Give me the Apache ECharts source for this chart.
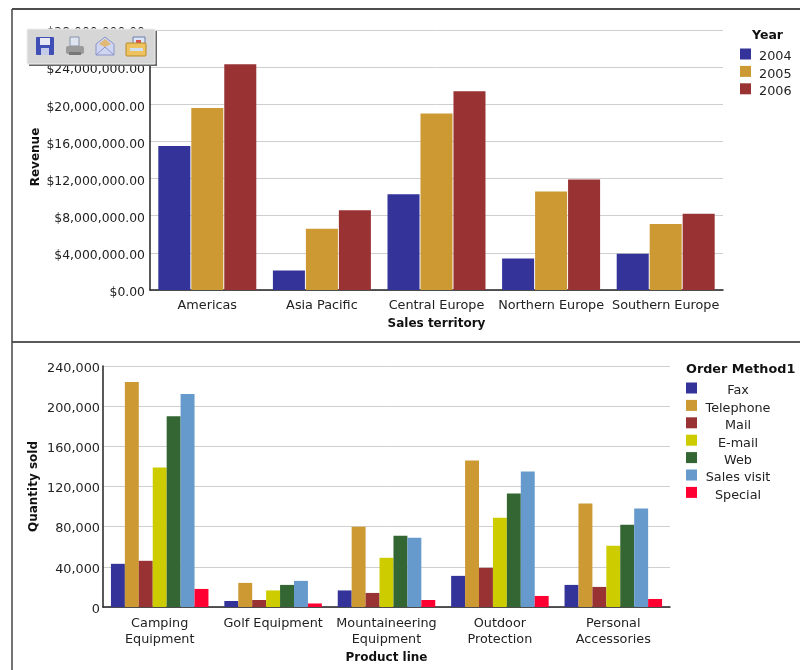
<!DOCTYPE html>
<html><head><meta charset="utf-8">
<style>html,body{margin:0;padding:0;background:#fff}#c{width:800px;height:670px}</style>
<script src="https://cdn.jsdelivr.net/npm/echarts@6/dist/echarts.min.js"></script>
</head><body><div id="c"></div>
<script>
const territories = ['Americas','Asia Pacific','Central Europe','Northern Europe','Southern Europe'];
const rev2004 = [15500000,2100000,10300000,3400000,3900000];
const rev2005 = [19600000,6600000,19000000,10600000,7100000];
const rev2006 = [24300000,8600000,21400000,11900000,8200000];
const productLines = ['Camping\nEquipment','Golf Equipment','Mountaineering\nEquipment','Outdoor\nProtection','Personal\nAccessories'];
const fax = [43000,6000,16500,31000,22000];
const telephone = [224000,24000,80000,146000,103000];
const mail = [46000,7000,14000,39000,20000];
const email = [139000,16500,49000,89000,61000];
const web = [190000,22000,71000,113000,82000];
const salesVisit = [212000,26000,69000,135000,98000];
const special = [18000,3500,7000,11000,8000];
const colors = ['#333399','#CC9933','#993333','#CCCC00','#336633','#6699CC','#FF0033'];
const F = 'DejaVu Sans';
const TXT = '#222';

const chart = echarts.init(document.getElementById('c'), null, {renderer:'canvas'});
const axisBase = {
  axisLine:{show:true,lineStyle:{color:'#222',width:1.5}},
  axisTick:{show:false},
  axisLabel:{fontFamily:F,fontSize:12.8,color:TXT},
  nameTextStyle:{fontFamily:F,fontSize:12,fontWeight:'bold',color:'#111'},
  nameLocation:'middle',
  nameMoveOverlap:false
};
const yRich = {a:{padding:[5,0,0,0],fontFamily:F,fontSize:12.8,color:TXT}};
const yRichTop = {a:{padding:[6,0,0,0],fontFamily:F,fontSize:12.4,color:TXT}};
const bar = (name,data,i,xi,gap,catGap)=>({
  name,type:'bar',data,xAxisIndex:xi,yAxisIndex:xi,
  barGap:gap,barCategoryGap:catGap,
  itemStyle:{color:colors[i]}
});
const kid = (type,shape,style)=>({type,shape,style,z:101});
const icon = (x,children)=>({type:'group',x,y:37,children});
chart.setOption({
  animation:false,
  textStyle:{fontFamily:F},
  color:colors,
  grid:[
    {left:150,top:30,width:573,height:260},
    {left:103,top:366,width:567,height:241}
  ],
  xAxis:[
    {...axisBase,type:'category',gridIndex:0,data:territories,name:'Sales territory',nameGap:28,
     axisLabel:{...axisBase.axisLabel,margin:9,interval:0}},
    {...axisBase,type:'category',gridIndex:1,data:productLines,name:'Product line',nameGap:45,
     axisLabel:{...axisBase.axisLabel,margin:9,interval:0,lineHeight:16}}
  ],
  yAxis:[
    {...axisBase,type:'value',gridIndex:0,min:0,max:28000000,interval:4000000,name:'Revenue',nameGap:108,
     nameTextStyle:{...axisBase.nameTextStyle,padding:[0,0,0,6]},
     axisLabel:{...axisBase.axisLabel,margin:5,rich:yRichTop,formatter:v=>'{a|$'+v.toLocaleString('en-US')+'.00}'},
     splitLine:{lineStyle:{color:'#cfcfcf'}}},
    {...axisBase,type:'value',gridIndex:1,min:0,max:240000,interval:40000,name:'Quantity sold',nameGap:63,
     axisLabel:{...axisBase.axisLabel,margin:3,rich:yRich,formatter:v=>'{a|'+v.toLocaleString('en-US')+'}'},
     splitLine:{lineStyle:{color:'#cfcfcf'}}}
  ],
  legend:[
    {orient:'vertical',left:740,top:48.5,itemWidth:11,itemHeight:11,itemGap:2.4,padding:0,
     icon:'rect',data:['2004','2005','2006'],selectedMode:false,
     formatter:n=>'{a|'+n+'}',
     textStyle:{fontFamily:F,fontSize:12.8,color:TXT,rich:{a:{padding:[6,0,0,3],fontFamily:F,fontSize:12.8,color:TXT}}}},
    {orient:'vertical',left:686,top:382.5,itemWidth:11,itemHeight:11,itemGap:2.4,padding:0,
     icon:'rect',data:['Fax','Telephone','Mail','E-mail','Web','Sales visit','Special'],selectedMode:false,
     formatter:n=>'{a|'+n+'}',
     textStyle:{fontFamily:F,fontSize:12.8,color:TXT,rich:{a:{width:72,align:'center',padding:[6,0,0,0],fontFamily:F,fontSize:12.8,color:TXT}}}}
  ],
  series:[
    bar('2004',rev2004,0,0,'3%','14.5%'),
    bar('2005',rev2005,1,0,'3%','14.5%'),
    bar('2006',rev2006,2,0,'3%','14.5%'),
    bar('Fax',fax,0,1,'0%','14%'),
    bar('Telephone',telephone,1,1,'0%','14%'),
    bar('Mail',mail,2,1,'0%','14%'),
    bar('E-mail',email,3,1,'0%','14%'),
    bar('Web',web,4,1,'0%','14%'),
    bar('Sales visit',salesVisit,5,1,'0%','14%'),
    bar('Special',special,6,1,'0%','14%')
  ],
  graphic:[
    {type:'text',left:752,top:29,style:{text:'Year',fontFamily:F,fontSize:12.5,fontWeight:'bold',fill:'#111'}},
    {type:'text',left:686,top:363,style:{text:'Order Method1',fontFamily:F,fontSize:12.8,fontWeight:'bold',fill:'#111'}},
    {type:'text',x:0,y:-19,style:{text:'am 1',fontFamily:'Liberation Sans',fontSize:25,fill:'#111'}},
    {type:'line',shape:{x1:12,y1:9,x2:800,y2:9},style:{stroke:'#111',lineWidth:1.5}},
    {type:'line',shape:{x1:12,y1:342,x2:800,y2:342},style:{stroke:'#222',lineWidth:1.5}},
    {type:'line',shape:{x1:12,y1:9,x2:12,y2:670},style:{stroke:'#444',lineWidth:1.5}},
    {type:'rect',z:100,shape:{x:29,y:31,width:128,height:35},style:{fill:'#666'}},
    {type:'rect',z:100,shape:{x:27,y:29,width:128,height:35},style:{fill:'#d6d6d6',stroke:'#eee',lineWidth:1}},
    icon(36,[
      kid('rect',{x:0,y:0,width:18,height:18,r:1},{fill:'#3f4fb5'}),
      kid('rect',{x:4,y:1,width:10,height:7},{fill:'#e8e8f4'}),
      kid('rect',{x:5,y:11,width:8,height:7},{fill:'#c4cbe8'})
    ]),
    icon(66,[
      kid('rect',{x:4,y:0,width:9,height:9},{fill:'#dfe5f0',stroke:'#8a93a8',lineWidth:1}),
      kid('rect',{x:0,y:9,width:18,height:8,r:2},{fill:'#9a9a9a'}),
      kid('rect',{x:3,y:15,width:12,height:3},{fill:'#777'})
    ]),
    icon(96,[
      kid('polygon',{points:[[0,7],[9,0],[18,7],[18,18],[0,18]]},{fill:'#cfd6f2',stroke:'#8c93c8',lineWidth:1}),
      kid('polygon',{points:[[3,7],[9,2],[15,7],[9,10]]},{fill:'#e2b877'}),
      kid('polyline',{points:[[0,18],[9,10],[18,18]]},{stroke:'#8c93c8',fill:'none',lineWidth:1})
    ]),
    icon(126,[
      kid('rect',{x:7,y:0,width:12,height:12},{fill:'#dbe6f7',stroke:'#6b7da8',lineWidth:1}),
      kid('rect',{x:10,y:3,width:5,height:5},{fill:'#d9534f'}),
      kid('rect',{x:0,y:6,width:20,height:13,r:1},{fill:'#eec25f',stroke:'#b98a2a',lineWidth:1}),
      kid('rect',{x:4,y:11,width:13,height:3},{fill:'#cfe0f2'})
    ])
  ]
});
</script></body></html>
